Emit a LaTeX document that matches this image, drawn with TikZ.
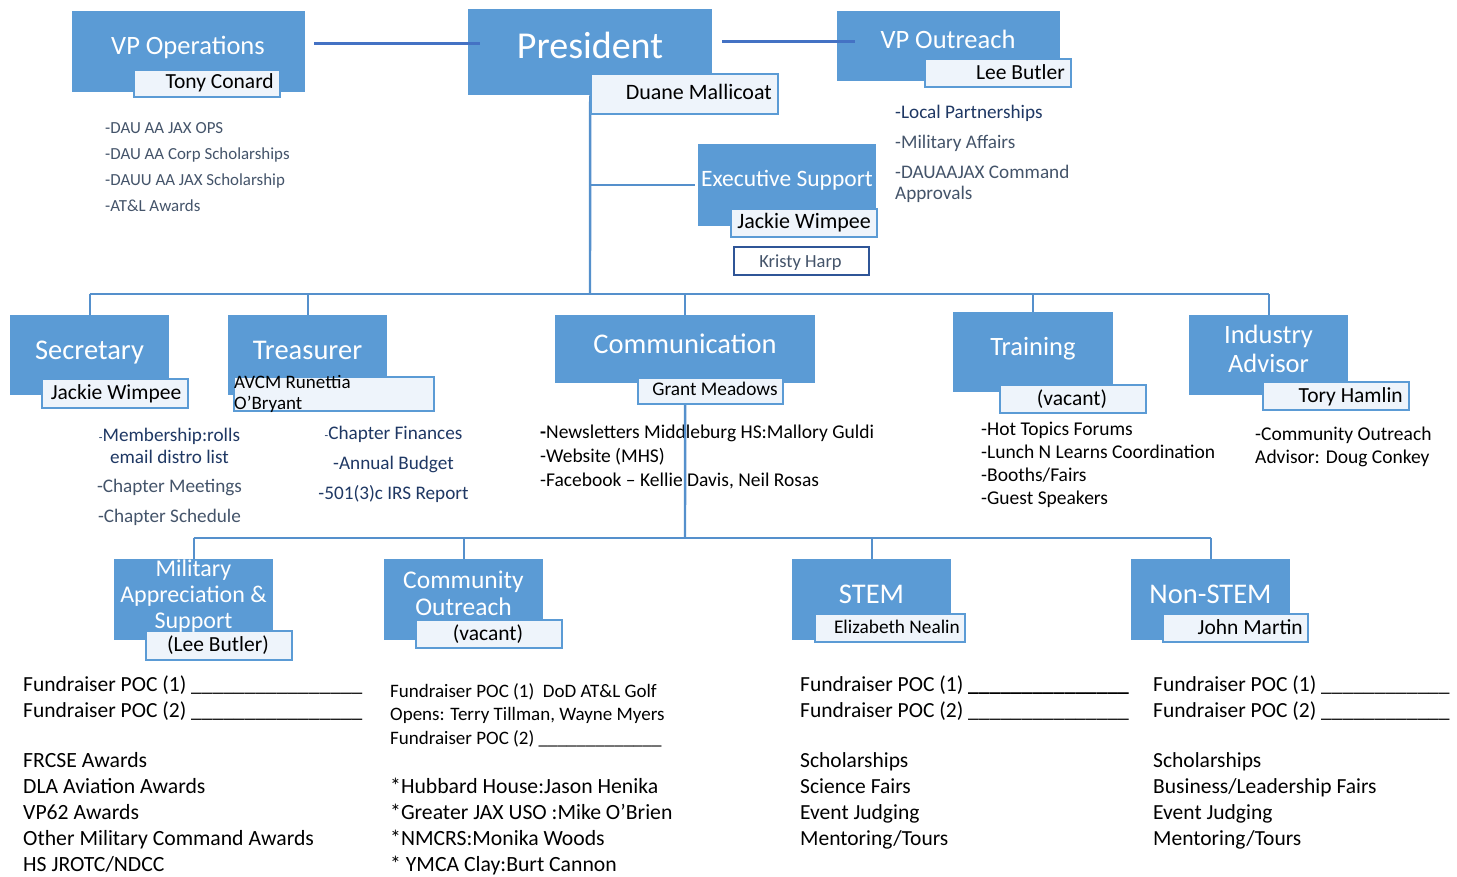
\documentclass[tikz,border=0pt]{standalone}
\usepackage{fontspec}
\setmainfont{Carlito}
\definecolor{boxblue}{HTML}{5B9BD5}
\definecolor{linkblue}{HTML}{5590CC}
\definecolor{topblue}{HTML}{4472C4}
\definecolor{navy}{HTML}{1F3864}
\definecolor{slate}{HTML}{44546A}
\definecolor{namefill}{HTML}{EEF4FB}
\definecolor{harp}{HTML}{2F5597}
\pgfdeclarelayer{bg}
\pgfdeclarelayer{txt}
\pgfdeclarelayer{lines}
\pgfdeclarelayer{top}
\pgfsetlayers{bg,txt,lines,main,top}
\newcommand\fs[1]{\fontsize{#1pt}{#1pt}\selectfont}
\begin{document}
\begin{tikzpicture}[x=1pt,y=-1pt,
  bluebox/.style={fill=boxblue, inner sep=0pt, anchor=north west},
  namebox/.style={fill=namefill, draw=boxblue, line width=1.5pt, inner sep=0pt, anchor=north west},
  harpbox/.style={fill=white, draw=harp, line width=1.6pt, inner sep=0pt, anchor=north west},
  ttl/.style={text=white, anchor=base, inner sep=0pt, font=\fs{#1}},
  nmr/.style={text=black, anchor=base east, inner sep=0pt, font=\fs{#1}},
  nmc/.style={text=black, anchor=base, inner sep=0pt, font=\fs{#1}},
  item/.style={anchor=base west, inner sep=0pt, font=\fs{#1}},
  itemc/.style={anchor=base, inner sep=0pt, font=\fs{#1}},
  link/.style={draw=linkblue, line width=2.4pt},
  toplink/.style={draw=topblue, line width=3.4pt}
]
\begin{pgfonlayer}{bg}
\fill[white] (0,0) rectangle (1457,876);
\end{pgfonlayer}
\useasboundingbox (0,0) rectangle (1457,876);

% ---------- boxes ----------
\node[bluebox, minimum width=233pt, minimum height=81pt] (vpops) at (72,11) {};
\node[bluebox, minimum width=244pt, minimum height=86pt] (pres) at (468,9) {};
\node[bluebox, minimum width=223pt, minimum height=70pt] (vpout) at (837,11) {};
\node[bluebox, minimum width=178pt, minimum height=82pt] (exec) at (698,144) {};
\node[bluebox, minimum width=159pt, minimum height=80pt] (sec) at (10,315) {};
\node[bluebox, minimum width=159pt, minimum height=80pt] (treas) at (228,315) {};
\node[bluebox, minimum width=260pt, minimum height=68pt] (comm) at (555,315) {};
\node[bluebox, minimum width=160pt, minimum height=80pt] (train) at (953,312) {};
\node[bluebox, minimum width=159pt, minimum height=80pt] (ind) at (1189,315) {};
\node[bluebox, minimum width=159pt, minimum height=81pt] (mil) at (114,559) {};
\node[bluebox, minimum width=159pt, minimum height=81pt] (cout) at (384,559) {};
\node[bluebox, minimum width=159pt, minimum height=81pt] (stem) at (792,559) {};
\node[bluebox, minimum width=159pt, minimum height=81pt] (nons) at (1131,559) {};

% ---------- name boxes ----------
\node[namebox, minimum width=146pt, minimum height=27pt] (vpopsN) at (133,69) {};
\node[namebox, minimum width=187pt, minimum height=40pt] (presN) at (590,73) {};
\node[namebox, minimum width=146pt, minimum height=28pt] (vpoutN) at (924,58) {};
\node[namebox, minimum width=146pt, minimum height=28pt] (execN) at (730,208) {};
\node[harpbox, minimum width=135pt, minimum height=28pt] (harpN) at (733,246) {};
\node[namebox, minimum width=146pt, minimum height=29pt] (secN) at (41,378) {};
\node[namebox, minimum width=200pt, minimum height=34pt] (treasN) at (233,376) {};
\node[namebox, minimum width=145pt, minimum height=26pt] (commN) at (637,377) {};
\node[namebox, minimum width=146pt, minimum height=28pt] (trainN) at (999,384) {};
\node[namebox, minimum width=146pt, minimum height=28pt] (indN) at (1262,381) {};
\node[namebox, minimum width=146pt, minimum height=29pt] (milN) at (145,630) {};
\node[namebox, minimum width=146pt, minimum height=28pt] (coutN) at (415,619) {};
\node[namebox, minimum width=150pt, minimum height=28pt] (stemN) at (814,613) {};
\node[namebox, minimum width=145pt, minimum height=28pt] (nonsN) at (1162,613) {};

% ---------- titles ----------
\node[ttl=26.5] (vpopsT) at (188,54.5) {VP Operations};
\node[ttl=38] (presT) at (590,58) {President};
\node[ttl=26.5] (vpoutT) at (948,48.5) {VP Outreach};
\node[ttl=23.5] (execT) at (787,186.5) {Executive Support};
\node[ttl=28.5] (secT) at (89.5,359) {Secretary};
\node[ttl=28.5] (treasT) at (307.5,359) {Treasurer};
\node[ttl=28.5] (commT) at (685,353) {Communication};
\node[ttl=26.5] (trainT) at (1033,355.5) {Training};
\node[ttl=26.5] (indT1) at (1268.5,343.5) {Industry};
\node[ttl=26.5] (indT2) at (1268.5,372.5) {Advisor};
\node[ttl=24] (milT1) at (193.5,576) {Military};
\node[ttl=24] (milT2) at (193.5,602) {Appreciation \&};
\node[ttl=24] (milT3) at (193.5,628) {Support};
\node[ttl=25.5] (coutT1) at (463.5,588) {Community};
\node[ttl=25.5] (coutT2) at (463.5,615) {Outreach};
\node[ttl=28.5] (stemT) at (871.5,603) {STEM};
\node[ttl=28.5] (nonsT) at (1210.5,603) {Non-STEM};

% ---------- names ----------
\node[nmr=21.5] (vpopsP) at (274,88) {Tony Conard};
\node[nmr=22] (presP) at (772,99) {Duane Mallicoat};
\node[nmr=21.5] (vpoutP) at (1065,79) {Lee Butler};
\node[nmr=22] (execP) at (871,228) {Jackie Wimpee};
\node[nmc=18.5, text=slate] (harpP) at (800.5,267) {Kristy Harp};
\node[nmc=21.5] (secP) at (116,399) {Jackie Wimpee};
\node[item=19] (treasP1) at (234,388) {AVCM Runettia};
\node[item=19] (treasP2) at (234,409) {O’Bryant};
\node[nmc=19.3] (commP) at (715,395) {Grant Meadows};
\node[nmc=21.5] (trainP) at (1072,405) {(vacant)};
\node[nmr=21.5] (indP) at (1403,402) {Tory Hamlin};
\node[nmc=21.5] (milP) at (218,651) {(Lee Butler)};
\node[nmc=21.5] (coutP) at (488,640) {(vacant)};
\node[nmr=19.3] (stemP) at (960,633) {Elizabeth Nealin};
\node[nmr=21.5] (nonsP) at (1303,634) {John Martin};

% ---------- lists ----------
\begin{pgfonlayer}{txt}
\foreach \t [count=\i] in {-DAU AA JAX OPS,-DAU AA Corp Scholarships,-DAUU AA JAX Scholarship,-AT\&L Awards}
  \node[item=16.9, text=slate] (opsL\i) at (105,{133+(\i-1)*26}) {\t};
\node[item=19.2, text=navy] (outL1) at (895,118) {-Local Partnerships};
\node[item=19.2, text=slate] (outL2) at (895,148) {-Military Affairs};
\node[item=19.2, text=slate] (outL3) at (895,178) {-DAUAAJAX Command};
\node[item=19.2, text=slate] (outL4) at (895,199) {Approvals};

\node[itemc=19.2, text=navy] (secL1) at (169.5,441) {{\fs{12}-}Membership:rolls};
\node[itemc=19.2, text=navy] (secL2) at (169.5,463) {email distro list};
\node[itemc=19.2, text=slate] (secL3) at (169.5,492) {-Chapter Meetings};
\node[itemc=19.2, text=slate] (secL4) at (169.5,522) {-Chapter Schedule};

\node[itemc=19.2, text=navy] (treL1) at (393.5,439) {{\fs{12}-}Chapter Finances};
\node[itemc=19.2, text=navy] (treL2) at (393.5,469) {-Annual Budget};
\node[itemc=19.2, text=navy] (treL3) at (393.5,499) {-501(3)c IRS Report};

\node[item=19.5] (comL1) at (540,438) {\textbf{-}Newsletters Middleburg HS:Mallory Guldi};
\node[item=19.5] (comL2) at (540,462) {-Website (MHS)};
\node[item=19.5] (comL3) at (540,486) {-Facebook – Kellie Davis, Neil Rosas};

\foreach \t [count=\i] in {-Hot Topics Forums,-Lunch N Learns Coordination,-Booths/Fairs,-Guest Speakers}
  \node[item=19.5] (traL\i) at (981,{435+(\i-1)*23.3}) {\t};

\node[item=19.5] (indL1) at (1255,440) {-Community Outreach};
\node[item=19.5] (indL2) at (1255,463) {Advisor: Doug Conkey};

% bottom lists
\node[item=21.5] (milF1) at (23,691) {Fundraiser POC (1) \_\_\_\_\_\_\_\_\_\_\_\_\_\_\_\_};
\node[item=21.5] (milF2) at (23,717) {Fundraiser POC (2) \_\_\_\_\_\_\_\_\_\_\_\_\_\_\_\_};
\foreach \t [count=\i] in {FRCSE Awards,DLA Aviation Awards,VP62 Awards,Other Military Command Awards,HS JROTC/NDCC}
  \node[item=21.7] (milL\i) at (23,{767+(\i-1)*26}) {\t};

\node[item=19] (coF1) at (390,697) {Fundraiser POC (1) \ DoD AT\&L Golf};
\node[item=19] (coF2) at (390,720) {Opens: Terry Tillman, Wayne Myers};
\node[item=19] (coF3) at (390,744) {Fundraiser POC (2) \_\_\_\_\_\_\_\_\_\_\_\_\_};
\foreach \t [count=\i] in {*Hubbard House:Jason Henika,*Greater JAX USO :Mike O’Brien,*NMCRS:Monika Woods,* YMCA Clay:Burt Cannon}
  \node[item=21.7] (coL\i) at (390,{793+(\i-1)*26}) {\t};

\node[item=21.5] (stF1) at (800,691) {Fundraiser POC (1) \textbf{\_\_\_\_\_\_\_\_\_\_\_\_\_\_\_}};
\node[item=21.5] (stF2) at (800,717) {Fundraiser POC (2) \_\_\_\_\_\_\_\_\_\_\_\_\_\_\_};
\foreach \t [count=\i] in {Scholarships,Science Fairs,Event Judging,Mentoring/Tours}
  \node[item=21.5] (stL\i) at (800,{767+(\i-1)*26}) {\t};

\node[item=21.5] (nsF1) at (1153,691) {Fundraiser POC (1) \_\_\_\_\_\_\_\_\_\_\_\_};
\node[item=21.5] (nsF2) at (1153,717) {Fundraiser POC (2) \_\_\_\_\_\_\_\_\_\_\_\_};
\foreach \t [count=\i] in {Scholarships,Business/Leadership Fairs,Event Judging,Mentoring/Tours}
  \node[item=21.5] (nsL\i) at (1153,{767+(\i-1)*26}) {\t};
\end{pgfonlayer}

% ---------- connectors ----------
\begin{pgfonlayer}{top}
\draw[toplink] ([xshift=9pt,yshift=8.5pt]vpops.east) -- ([xshift=12pt,yshift=9pt]pres.west);
\draw[toplink] ([xshift=10pt,yshift=11pt]pres.east) -- ([xshift=18pt,yshift=5pt]vpout.west);
\end{pgfonlayer}
\begin{pgfonlayer}{lines}
\coordinate (busA) at (590,294);
\coordinate (busB) at (685,538);
\draw[link] (pres.south) -- (busA);
\draw[link] (pres.south |- exec.west) -- ([xshift=-3pt]exec.west);
\draw[link] (sec.north |- busA) -- (ind.north |- busA);
\foreach \n in {sec,treas,comm,train,ind}
  \draw[link] (\n.north |- busA) -- (\n.north);
\draw[link] (comm.south) -- (busB);
\draw[link] (mil.north |- busB) -- (nons.north |- busB);
\foreach \n in {mil,cout,stem,nons}
  \draw[link] (\n.north |- busB) -- (\n.north);
\end{pgfonlayer}
\end{tikzpicture}
\end{document}
